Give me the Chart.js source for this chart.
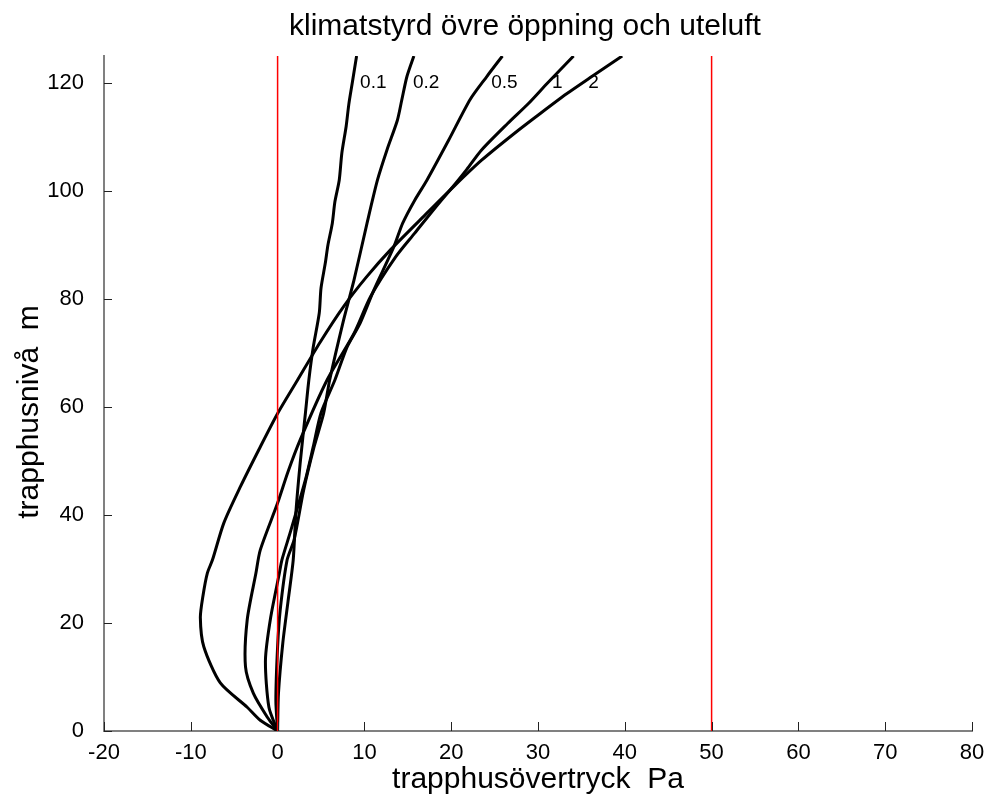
<!DOCTYPE html>
<html>
<head>
<meta charset="utf-8">
<title>trapphusövertryck</title>
<script src="https://cdn.jsdelivr.net/npm/chart.js@4.4.0/dist/chart.umd.min.js"></script>
<style>
  html, body { margin: 0; padding: 0; background: #fff; }
</style>
</head>
<body>
<canvas id="myChart" width="987" height="807"></canvas>
<script>
// stairwell levels (m) and overpressure (Pa), one pair per upper opening area
var levels01 = [0, 7, 16.3, 24, 31.7, 40.3, 49.6, 58.8, 65, 71, 77.4, 82, 86.7, 90, 94, 98, 102, 107, 112, 116, 120, 125];
var press01  = [0, 0.1, 0.6, 1.2, 1.8, 2.1, 2.6, 3.2, 3.6, 4.1, 4.8, 5.0, 5.5, 5.8, 6.3, 6.6, 7.1, 7.4, 7.9, 8.2, 8.6, 9.1];

var levels02 = [0, 5.7, 15.6, 22.4, 31.7, 35.4, 44.6, 52.6, 58.8, 65, 76.1, 83.5, 94, 102, 107.6, 113.1, 116.8, 121.2, 125];
var press02  = [0, -0.2, 0, 0.3, 1.1, 1.9, 3.0, 4.2, 5.3, 6.0, 7.6, 8.8, 10.3, 11.5, 12.6, 13.8, 14.3, 14.9, 15.7];

var levels05 = [0, 4.4, 13.1, 21, 29.2, 31.7, 37, 46.5, 52.6, 58.9, 65, 71.1, 75.5, 81.7, 89.7, 94, 98.3, 102, 109.4, 117, 121.2, 125];
var press05  = [0, -1, -1.4, -0.8, 0.2, 0.5, 1.5, 3.2, 4.1, 5.0, 6.6, 8.0, 9.5, 11.1, 13.4, 14.4, 15.8, 17.2, 19.7, 22.2, 24.1, 25.9];

var levels1 = [0, 2.6, 7, 11.9, 20.6, 29.2, 33.5, 42.2, 48, 53.9, 65, 73.6, 80.4, 87.8, 92.2, 97, 101.4, 104, 107.6, 112.5, 116.2, 120, 125];
var press1  = [0, -1.2, -2.8, -3.7, -3.5, -2.5, -2, 0, 1.2, 2.6, 5.7, 8.8, 10.7, 13.6, 15.8, 18.2, 20.5, 21.8, 23.5, 26.5, 28.9, 31.1, 34.1];

var levels2 = [0, 2, 4.4, 8.9, 15.6, 21, 25, 29.2, 31.7, 38.5, 45.2, 52.6, 58.8, 65, 72, 78.6, 84, 89.1, 95.9, 101, 105.7, 110.7, 114.4, 118, 121.2, 125];
var press2  = [0, -2, -3.5, -6.6, -8.5, -8.9, -8.6, -8.1, -7.5, -6.2, -4.3, -2, 0, 2.3, 4.9, 7.6, 10.2, 13, 17.2, 20.4, 23.5, 27.3, 30.3, 33.3, 36.2, 39.7];

// curve names and where they are written (Pa, m)
var curveNames = ["0.1", "0.2", "0.5", "1", "2"];
var nameAtPa   = [9.5, 15.6, 24.6, 31.6, 35.8];
var nameAtM    = 120;

// red limit lines (Pa)
var limitLines = [0, 50];

var xTicks = [-20, -10, 0, 10, 20, 30, 40, 50, 60, 70, 80];
var yTicks = [0, 20, 40, 60, 80, 100, 120];

var FONT = "'Liberation Sans', Arial, Helvetica, sans-serif";

function toPoints(xs, ys){
    return xs.map(function(x, i){ return {x: x, y: ys[i]}; });
}

var datasets = [];
limitLines.forEach(function(p){
    datasets.push({
        data: [{x: p, y: 0}, {x: p, y: 125}],
        borderColor: '#ff0000',
        borderWidth: 1.5,
        pointRadius: 0,
        showLine: true
    });
});
[[press01, levels01], [press02, levels02], [press05, levels05], [press1, levels1], [press2, levels2]].forEach(function(c){
    datasets.push({
        data: toPoints(c[0], c[1]),
        borderColor: '#000000',
        borderWidth: 3,
        pointRadius: 0,
        tension: 0.25,
        showLine: true
    });
});

// title, y label, inward tick marks and curve names
var extras = {
    id: 'extras',
    afterDraw: function(chart){
        var ctx = chart.ctx;
        var xs = chart.scales.x, ys = chart.scales.y;
        var area = chart.chartArea;
        ctx.save();
        ctx.strokeStyle = '#222';
        ctx.lineWidth = 1;
        xTicks.forEach(function(v){
            var px = Math.round(xs.getPixelForValue(v)) + 0.5;
            ctx.beginPath();
            ctx.moveTo(px, area.bottom);
            ctx.lineTo(px, area.bottom - 9);
            ctx.stroke();
        });
        yTicks.forEach(function(v){
            var py = Math.round(ys.getPixelForValue(v)) + 0.5;
            ctx.beginPath();
            ctx.moveTo(area.left, py);
            ctx.lineTo(area.left + 8, py);
            ctx.stroke();
        });

        ctx.fillStyle = '#000';
        ctx.font = '19px ' + FONT;
        ctx.textAlign = 'left';
        ctx.textBaseline = 'middle';
        curveNames.forEach(function(n, i){
            ctx.fillText(n, xs.getPixelForValue(nameAtPa[i]), ys.getPixelForValue(nameAtM));
        });

        ctx.font = '30px ' + FONT;
        ctx.textAlign = 'center';
        ctx.fillText('klimatstyrd övre öppning och uteluft', 525, 27);

        ctx.translate(30, 412);
        ctx.rotate(-Math.PI / 2);
        ctx.fillText('trapphusnivå  m', 0, 0);
        ctx.restore();
    }
};

var ctx = document.getElementById('myChart').getContext('2d');
var myChart = new Chart(ctx, {
    type: 'scatter',
    data: { datasets: datasets },
    plugins: [extras],
    options: {
        responsive: false,
        animation: false,
        layout: { padding: { top: 56, right: 15, left: 0, bottom: 0 } },
        plugins: {
            legend: { display: false },
            tooltip: { enabled: false }
        },
        scales: {
            x: {
                type: 'linear',
                min: -20,
                max: 80,
                afterBuildTicks: function(scale){
                    scale.ticks = xTicks.map(function(v){ return {value: v}; });
                },
                afterFit: function(scale){
                    scale.height = 76;
                    scale.paddingLeft = 0;
                    scale.paddingRight = 0;
                },
                grid: { drawOnChartArea: false, drawTicks: false },
                border: { color: '#808080', width: 2 },
                ticks: { color: '#000', padding: 9, font: { family: FONT, size: 22 } },
                title: {
                    display: true,
                    text: 'trapphusövertryck  Pa',
                    color: '#000',
                    font: { family: FONT, size: 30 },
                    padding: { top: 0, bottom: 9 }
                }
            },
            y: {
                type: 'linear',
                min: 0,
                max: 125,
                afterBuildTicks: function(scale){
                    scale.ticks = yTicks.map(function(v){ return {value: v}; });
                },
                afterFit: function(scale){
                    scale.width = 104;
                    scale.paddingTop = 0;
                    scale.paddingBottom = 0;
                },
                grid: { drawOnChartArea: false, drawTicks: false },
                border: { color: '#808080', width: 2 },
                ticks: { color: '#000', padding: 20, font: { family: FONT, size: 22 } }
            }
        }
    }
});
</script>
</body>
</html>
